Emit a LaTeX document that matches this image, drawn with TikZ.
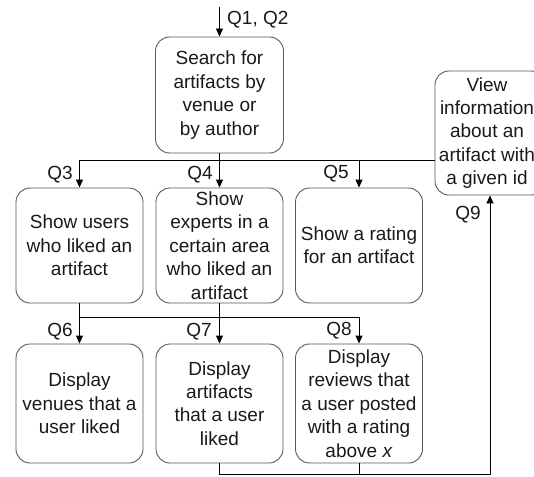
\documentclass[tikz,border=0pt]{standalone}
\usepackage{fontspec}
\setmainfont{Liberation Sans}
\usetikzlibrary{arrows.meta}
\tikzset{
  box/.style={draw=black!65, line width=0.9pt, rounded corners=14pt, inner sep=0pt,
    align=center, font=\fontsize{19}{23.4}\selectfont, text=black!90},
  conn/.style={draw=black, line width=0.9pt},
  arr/.style={conn, -{Triangle[length=8pt,width=7pt]}},
  lbl/.style={font=\fontsize{19}{23}\selectfont, inner sep=0pt, text=black!90}
}
\begin{document}
\begin{tikzpicture}[x=1pt,y=-1pt]
\useasboundingbox (0,0) rectangle (534,476);
\clip (0,0) rectangle (534,476);
% boxes
\node[box, minimum width=128pt, minimum height=116pt] (search) at (219.5,95)
  {Search for\\artifacts by\\venue or\\by author};
\node[box, minimum width=110pt, minimum height=124pt] (view) at (490,133)
  {\hspace*{-6pt}View\\\hspace*{-6pt}information\\\hspace*{-6pt}about an\\\hspace*{-6pt}artifact with\\\hspace*{-6pt}a given id};
\node[box, minimum width=127pt, minimum height=115pt] (a1) at (79.5,245.5)
  {Show users\\who liked an\\artifact};
\node[box, minimum width=127pt, minimum height=115pt] (a2) at (219.5,245.5)
  {Show\\experts in a\\certain area\\who liked an\\artifact};
\node[box, minimum width=127pt, minimum height=115pt] (a3) at (359,245.5)
  {Show a rating\\for an artifact};
\node[box, minimum width=127pt, minimum height=119pt] (b1) at (79.5,403.5)
  {Display\\venues that a\\user liked};
\node[box, minimum width=127pt, minimum height=119pt] (b2) at (219.5,403.5)
  {Display\\artifacts\\that a user\\liked};
\node[box, minimum width=127pt, minimum height=119pt] (b3) at (359,403.5)
  {Display\\reviews that\\a user posted\\with a rating\\above \textit{x}};
% coordinates
\coordinate (top) at (219.5,7);
\coordinate (j1) at (0,160);
\coordinate (j2) at (0,317);
\coordinate (q9) at (490,474);
% connectors
\draw[arr] (top) -- (search.north);
\draw[arr] (search.south) -- (a2.north);
\draw[arr] (view.west |- j1) -| (a1.north);
\draw[arr] (a3.north |- j1) -- (a3.north);
\draw[arr] (a1.south) -- (b1.north);
\draw[arr] (a2.south) -- (b2.north);
\draw[arr] (a1.south |- j2) -| (b3.north);
\draw[arr] (b2.south) |- (q9) -- (q9 |- view.south);
\draw[conn] (b3.south) -- (b3.south |- q9);
% labels
\node[lbl, anchor=west] (l12) at (227,20) {Q1, Q2};
\node[lbl, anchor=east] (l3) at (73,175) {Q3};
\node[lbl, anchor=east] (l4) at (213,175) {Q4};
\node[lbl, anchor=east] (l5) at (349,174) {Q5};
\node[lbl, anchor=east] (l6) at (73,332) {Q6};
\node[lbl, anchor=east] (l7) at (212,332) {Q7};
\node[lbl, anchor=east] (l8) at (352,331) {Q8};
\node[lbl, anchor=east] (l9) at (481,215) {Q9};
\end{tikzpicture}
\end{document}
